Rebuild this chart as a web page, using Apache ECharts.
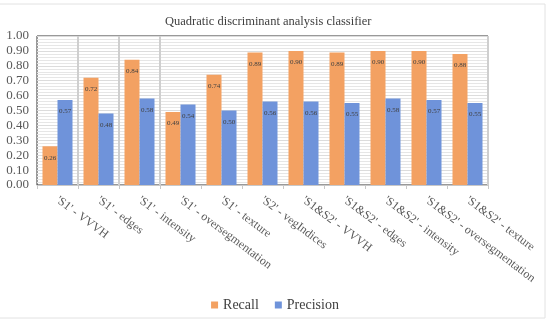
<!DOCTYPE html>
<html><head><meta charset="utf-8">
<script src="https://cdn.jsdelivr.net/npm/echarts@6/dist/echarts.min.js"></script>
<style>html,body{margin:0;padding:0;background:#fff}#c{width:550px;height:323px}</style>
</head><body><div id="c"></div>
<script>
const categories = ["'S1' - VVVH","'S1' - edges","'S1' - intensity","'S1' - oversegmentation","'S1' - texture","'S2' - vegIndices","'S1&S2' - VVVH","'S1&S2' - edges","'S1&S2' - intensity","'S1&S2' - oversegmentation","'S1&S2' - texture"];
const recall = [0.26,0.72,0.84,0.49,0.74,0.89,0.90,0.89,0.90,0.90,0.88];
const precision = [0.57,0.48,0.58,0.54,0.50,0.56,0.56,0.55,0.58,0.57,0.55];
const yTicks = [0,0.1,0.2,0.3,0.4,0.5,0.6,0.7,0.8,0.9,1.0];

const serif = 'Liberation Serif';
const chart = echarts.init(document.getElementById('c'));
const lbl = {show:true, position:'insideTop', distance:8, fontSize:7, fontFamily:serif, color:'#404040', formatter:p=>p.value.toFixed(2)};
chart.setOption({
  animation:false,
  textStyle:{fontFamily:serif},
  graphic:[{type:'rect', shape:{x:-2,y:4,width:547,height:314}, style:{fill:'none', stroke:'#e2e2e2', lineWidth:1}, silent:true}],
  title:{text:'Quadratic discriminant analysis classifier', left:160, top:10,
    textStyle:{fontFamily:serif, fontSize:12.5, fontWeight:'normal', color:'#404040'}},
  legend:{bottom:6, left:'center', itemWidth:7, itemHeight:7, itemGap:16, icon:'rect',
    textStyle:{fontFamily:serif, fontSize:14, color:'#404040'}, data:['Recall','Precision']},
  grid:{left:37, right:62, top:36, bottom:138, show:true, borderColor:'#333', borderWidth:1},
  xAxis:{type:'category', data:categories,
    axisLine:{lineStyle:{color:'#c8c8c8'}},
    axisTick:{show:true, length:4, lineStyle:{color:'#c8c8c8'}},
    splitLine:{show:true, interval:(i)=>i>=1&&i<=3, lineStyle:{color:'#cfcfcf', width:2}},
    axisLabel:{rotate:-37, interval:0, fontFamily:serif, fontSize:12, color:'#595959', margin:14}},
  yAxis:{type:'value', min:0, max:1, interval:0.1,
    axisLabel:{fontFamily:serif, fontSize:13, color:'#595959', margin:8, formatter:v=>v.toFixed(2)},
    axisLine:{show:false}, axisTick:{show:false},
    splitLine:{lineStyle:{color:'#dcdcdc'}},
    minorTick:{show:false, splitNumber:5},
    minorSplitLine:{show:true, lineStyle:{color:'#e6e6e6'}}},
  series:[
    {name:'Recall', type:'bar', data:recall, barWidth:15, barGap:'0%', itemStyle:{color:'#F3A162'}, label:lbl},
    {name:'Precision', type:'bar', data:precision, barWidth:15, itemStyle:{color:'#6F93DA'}, label:lbl}
  ]
});
</script></body></html>
